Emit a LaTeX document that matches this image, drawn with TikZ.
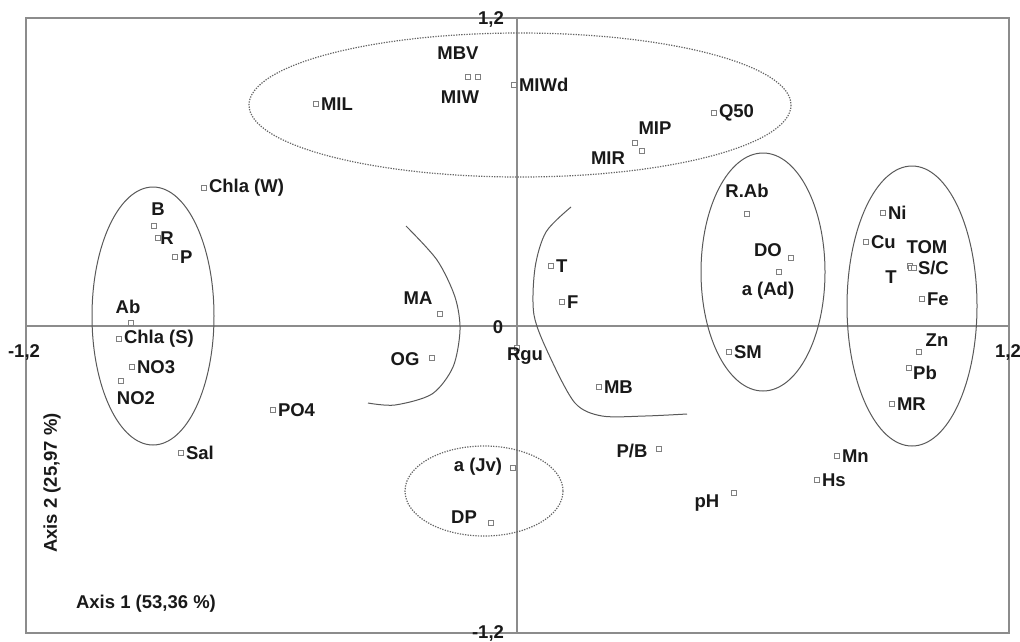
\documentclass[tikz,border=0pt]{standalone}
\usepackage{fontspec}
\setmainfont{Liberation Sans}
\usetikzlibrary{positioning}

\tikzset{
	vpt/.style = {rectangle, draw=gray, fill=white, line width=0.6pt, minimum size=5pt, inner sep=0pt},
	vlab/.style = {inner sep=1pt, text=black!90, font=\fontsize{18.5}{20}\selectfont\bfseries},
	frm/.style = {draw=black!45, line width=1.3pt},
	grp/.style = {draw=black!65, line width=1pt},
	grpd/.style = {draw=black!60, line width=1.2pt, dash pattern=on 1.3pt off 1.3pt}
}

\begin{document}
\begin{tikzpicture}[x=1pt,y=-1pt]
	\useasboundingbox (0,0) rectangle (1020,641);
	\draw[frm] (26,18) rectangle (1009,633);
	\draw[frm] (26,326) -- (1009,326);
	\draw[frm] (517,18) -- (517,633);

	\node[vlab] (ytop) at (491,19) {1,2};
	\node[vlab] (ybot) at (488,633) {-1,2};
	\node[vlab] (xleft) at (24,352) {-1,2};
	\node[vlab] (xright) at (1008,352) {1,2};
	\node[vlab] (orig) at (498,327) {0};
	\node[vlab] (ax1) at (146,604) {Axis 1 (53,36 \%)};
	\node[vlab, rotate=90] (ax2) at (52,483) {Axis 2 (25,97 \%)};

	\draw[grpd] (520,105) ellipse [x radius=271, y radius=72];
	\draw[grpd] (484,491) ellipse [x radius=79, y radius=45];
	\draw[grp] (153,316) ellipse [x radius=61, y radius=129];
	\draw[grp] (763,272) ellipse [x radius=62, y radius=119];
	\draw[grp] (912,306) ellipse [x radius=65, y radius=140];
	\draw[grp] plot[smooth] coordinates {(406,226) (437,260) (455,297) (460,330) (453,367) (432,394) (395,405) (368,403)};
	\draw[grp] plot[smooth] coordinates {(571,207) (546,232) (535,268) (534,315) (550,357) (575,403) (602,416) (645,416) (687,414)};

	\node[vpt] (mbv) at (468,77) {};
	\node[vpt] (miw) at (478,77) {};
	\node[vpt] (miwd) at (514,85) {};
	\node[vpt] (mil) at (316,104) {};
	\node[vpt] (q50) at (714,113) {};
	\node[vpt] (mip) at (635,143) {};
	\node[vpt] (mir) at (642,151) {};
	\node[vpt] (chlaw) at (204,188) {};
	\node[vpt] (b) at (154,226) {};
	\node[vpt] (r) at (158,238) {};
	\node[vpt] (p) at (175,257) {};
	\node[vpt] (ab) at (131,323) {};
	\node[vpt] (chlas) at (119,339) {};
	\node[vpt] (no3) at (132,367) {};
	\node[vpt] (no2) at (121,381) {};
	\node[vpt] (po4) at (273,410) {};
	\node[vpt] (sal) at (181,453) {};
	\node[vpt] (ma) at (440,314) {};
	\node[vpt] (og) at (432,358) {};
	\node[vpt] (rgu) at (517,348) {};
	\node[vpt] (ajv) at (513,468) {};
	\node[vpt] (dp) at (491,523) {};
	\node[vpt] (tw) at (551,266) {};
	\node[vpt] (f) at (562,302) {};
	\node[vpt] (mb) at (599,387) {};
	\node[vpt] (pb) at (659,449) {};
	\node[vpt] (ph) at (734,493) {};
	\node[vpt] (rab) at (747,214) {};
	\node[vpt] (do) at (791,258) {};
	\node[vpt] (aad) at (779,272) {};
	\node[vpt] (sm) at (729,352) {};
	\node[vpt] (ni) at (883,213) {};
	\node[vpt] (cu) at (866,242) {};
	\node[vpt] (tom) at (910,266) {};
	\node[vpt] (tc) at (911,268) {};
	\node[vpt] (sc) at (914,268) {};
	\node[vpt] (fe) at (922,299) {};
	\node[vpt] (zn) at (919,352) {};
	\node[vpt] (pbm) at (909,368) {};
	\node[vpt] (mr) at (892,404) {};
	\node[vpt] (mn) at (837,456) {};
	\node[vpt] (hs) at (817,480) {};

	\node[vlab] (lmbv) at (458,53) {MBV};
	\node[vlab] (lmiw) at (460,97) {MIW};
	\node[vlab, right=1pt of miwd] (lmiwd) {MIWd};
	\node[vlab, right=1pt of mil] (lmil) {MIL};
	\node[vlab, right=1pt of q50] (lq50) {Q50};
	\node[vlab] (lmip) at (655,128) {MIP};
	\node[vlab] (lmir) at (608,158) {MIR};
	\node[vlab, right=1pt of chlaw] (lchlaw) {Chla (W)};
	\node[vlab] (lb) at (158,209) {B};
	\node[vlab] (lr) at (167,238) {R};
	\node[vlab, right=1pt of p] (lp) {P};
	\node[vlab] (lab) at (128,307) {Ab};
	\node[vlab, right=1pt of chlas] (lchlas) {Chla (S)};
	\node[vlab, right=1pt of no3] (lno3) {NO3};
	\node[vlab] (lno2) at (136,398) {NO2};
	\node[vlab, right=1pt of po4] (lpo4) {PO4};
	\node[vlab, right=1pt of sal] (lsal) {Sal};
	\node[vlab] (lma) at (418,298) {MA};
	\node[vlab] (log) at (405,359) {OG};
	\node[vlab] (lrgu) at (525,356) {Rgu};
	\node[vlab] (lajv) at (478,467) {a (Jv)};
	\node[vlab] (ldp) at (464,517) {DP};
	\node[vlab, right=1pt of tw] (ltw) {T};
	\node[vlab, right=1pt of f] (lf) {F};
	\node[vlab, right=1pt of mb] (lmb) {MB};
	\node[vlab] (lpb) at (632,451) {P/B};
	\node[vlab] (lph) at (707,503) {pH};
	\node[vlab] (lrab) at (747,191) {R.Ab};
	\node[vlab] (ldo) at (768,250) {DO};
	\node[vlab] (laad) at (768,291) {a (Ad)};
	\node[vlab, right=1pt of sm] (lsm) {SM};
	\node[vlab, right=1pt of ni] (lni) {Ni};
	\node[vlab, right=1pt of cu] (lcu) {Cu};
	\node[vlab] (ltom) at (927,247) {TOM};
	\node[vlab] (ltc) at (891,277) {T};
	\node[vlab, right=0pt of sc] (lsc) {S/C};
	\node[vlab, right=1pt of fe] (lfe) {Fe};
	\node[vlab] (lzn) at (937,340) {Zn};
	\node[vlab] (lpbm) at (925,373) {Pb};
	\node[vlab, right=1pt of mr] (lmr) {MR};
	\node[vlab, right=1pt of mn] (lmn) {Mn};
	\node[vlab, right=1pt of hs] (lhs) {Hs};
\end{tikzpicture}
\end{document}
